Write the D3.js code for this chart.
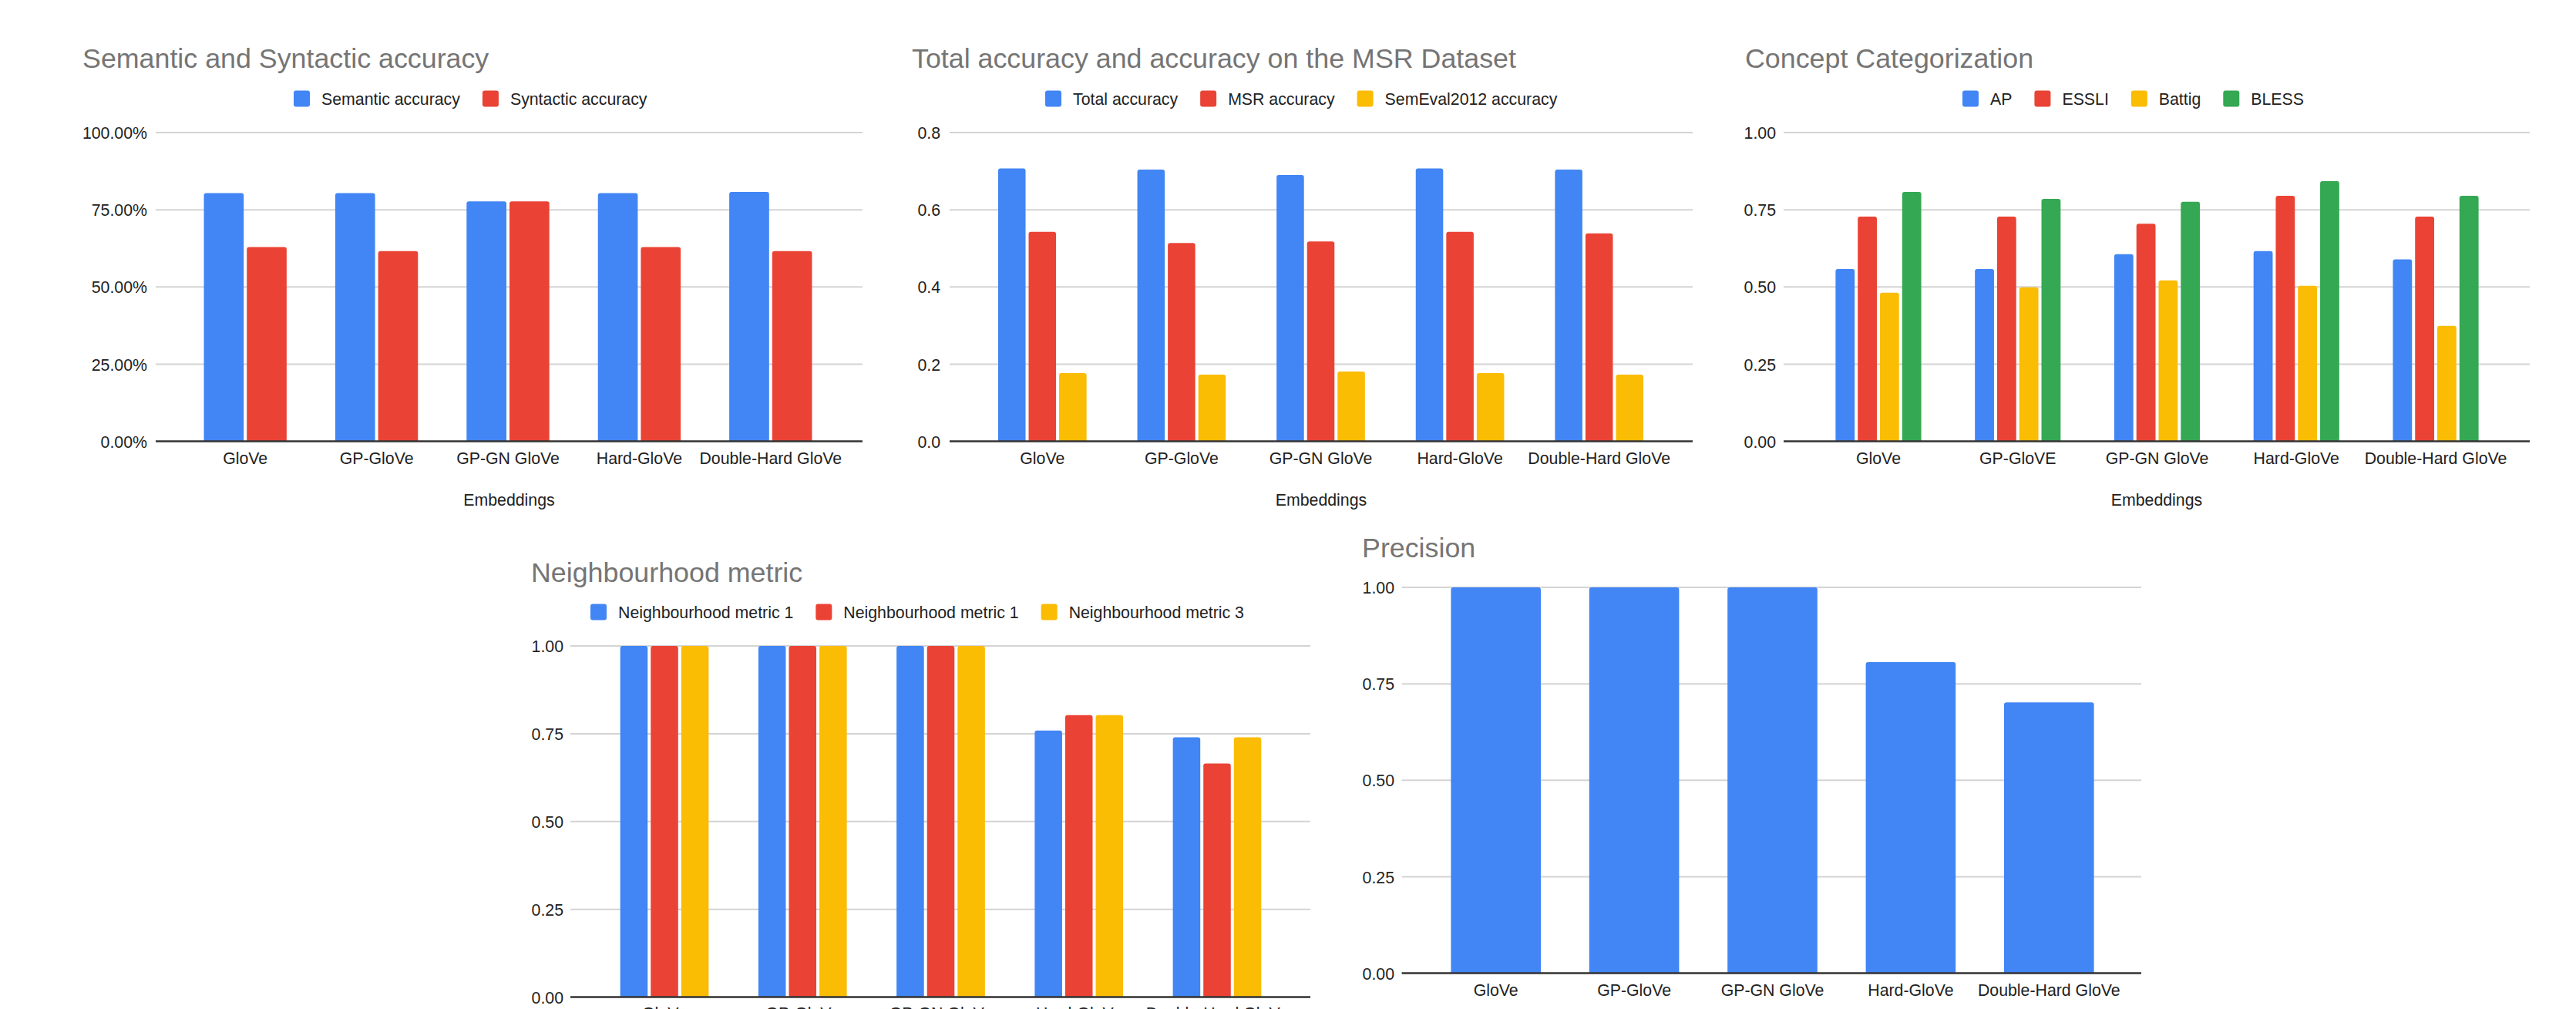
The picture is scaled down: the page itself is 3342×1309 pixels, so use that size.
<!DOCTYPE html>
<html>
<head>
<meta charset="utf-8">
<script src="https://cdn.jsdelivr.net/npm/d3@7"></script>
<style>
  html, body { margin: 0; padding: 0; background: #ffffff; overflow: hidden; }
  svg { display: block; }
  text { font-family: "Liberation Sans", Arial, Helvetica, sans-serif; }
</style>
</head>
<body>
<svg id="chart" width="3342" height="1309"></svg>
<script>
// ---------------- DATA ----------------
const categories = ["GloVe", "GP-GloVe", "GP-GN GloVe", "Hard-GloVe", "Double-Hard GloVe"];
const conceptCategories = ["GloVe", "GP-GloVE", "GP-GN GloVe", "Hard-GloVe", "Double-Hard GloVe"];

const semanticAccuracy = [0.804, 0.804, 0.777, 0.804, 0.808];
const syntacticAccuracy = [0.629, 0.616, 0.777, 0.629, 0.616];

const totalAccuracy = [0.707, 0.704, 0.690, 0.707, 0.704];
const msrAccuracy = [0.543, 0.514, 0.518, 0.543, 0.539];
const semEvalAccuracy = [0.177, 0.173, 0.181, 0.177, 0.173];

const apScores = [0.558, 0.558, 0.606, 0.616, 0.589];
const essliScores = [0.728, 0.728, 0.705, 0.795, 0.728];
const battigScores = [0.481, 0.499, 0.521, 0.504, 0.374];
const blessScores = [0.808, 0.785, 0.776, 0.843, 0.795];

const neighbourhoodMetric1 = [1.00, 1.00, 1.00, 0.759, 0.740];
const neighbourhoodMetric2 = [1.00, 1.00, 1.00, 0.803, 0.665];
const neighbourhoodMetric3 = [1.00, 1.00, 1.00, 0.803, 0.740];

const precisionValues = [1.00, 1.00, 1.00, 0.806, 0.702];

const percentTicks = [0, 0.25, 0.5, 0.75, 1.0];
const msrTicks = [0, 0.2, 0.4, 0.6, 0.8];
const unitTicks = [0, 0.25, 0.5, 0.75, 1.0];

const BLUE = "#4285F4", RED = "#EA4335", YELLOW = "#FBBC04", GREEN = "#34A853";

// ---------------- CHARTS ----------------
const charts = [
  {
    title: "Semantic and Syntactic accuracy", titleX: 107, titleY: 88,
    cats: categories,
    series: [
      { name: "Semantic accuracy", values: semanticAccuracy, color: BLUE },
      { name: "Syntactic accuracy", values: syntacticAccuracy, color: RED }
    ],
    legendX: 381, legendY: 128,
    gridX: [202, 1119], bandX: [233, 1085], yRange: [572.5, 172],
    ticks: percentTicks, domainMax: 1.0, fmt: d3.format(".2%"),
    yLabelX: 191, xLabelY: 601.5, axisTitle: "Embeddings", axisTitleY: 656, groupFrac: 0.63
  },
  {
    title: "Total accuracy and accuracy on the MSR Dataset", titleX: 1183, titleY: 88,
    cats: categories,
    series: [
      { name: "Total accuracy", values: totalAccuracy, color: BLUE },
      { name: "MSR accuracy", values: msrAccuracy, color: RED },
      { name: "SemEval2012 accuracy", values: semEvalAccuracy, color: YELLOW }
    ],
    legendX: 1356, legendY: 128,
    gridX: [1232, 2196], bandX: [1262, 2165], yRange: [572.5, 172],
    ticks: msrTicks, domainMax: 0.8, fmt: d3.format(".1f"),
    yLabelX: 1220, xLabelY: 601.5, axisTitle: "Embeddings", axisTitleY: 656, groupFrac: 0.635
  },
  {
    title: "Concept Categorization", titleX: 2264, titleY: 88,
    cats: conceptCategories,
    series: [
      { name: "AP", values: apScores, color: BLUE },
      { name: "ESSLI", values: essliScores, color: RED },
      { name: "Battig", values: battigScores, color: YELLOW },
      { name: "BLESS", values: blessScores, color: GREEN }
    ],
    legendX: 2546, legendY: 128,
    gridX: [2314, 3282], bandX: [2346.6, 3250.4], yRange: [572.5, 172],
    ticks: unitTicks, domainMax: 1.0, fmt: d3.format(".2f"),
    yLabelX: 2304, xLabelY: 601.5, axisTitle: "Embeddings", axisTitleY: 656, groupFrac: 0.615
  },
  {
    title: "Neighbourhood metric", titleX: 689, titleY: 755,
    cats: categories,
    series: [
      { name: "Neighbourhood metric 1", values: neighbourhoodMetric1, color: BLUE },
      { name: "Neighbourhood metric 1", values: neighbourhoodMetric2, color: RED },
      { name: "Neighbourhood metric 3", values: neighbourhoodMetric3, color: YELLOW }
    ],
    legendX: 766, legendY: 794,
    gridX: [740, 1700], bandX: [772.4, 1668.6], yRange: [1293.5, 838],
    ticks: unitTicks, domainMax: 1.0, fmt: d3.format(".2f"),
    yLabelX: 731, xLabelY: 1322, axisTitle: null, groupFrac: 0.64
  },
  {
    title: "Precision", titleX: 1767, titleY: 723,
    cats: categories,
    series: [
      { name: "Precision", values: precisionValues, color: BLUE }
    ],
    legendX: null,
    gridX: [1818.6, 2778], bandX: [1851, 2748], yRange: [1262.5, 762],
    ticks: unitTicks, domainMax: 1.0, fmt: d3.format(".2f"),
    yLabelX: 1809, xLabelY: 1292, axisTitle: null, groupFrac: 0.65
  }
];

const svg = d3.select("#chart");
const LABEL_SIZE = 21.3;

function topRoundedBar(x, y, w, h, r) {
  r = Math.min(r, w / 2, h);
  return `M${x},${y + h}V${y + r}Q${x},${y} ${x + r},${y}H${x + w - r}Q${x + w},${y} ${x + w},${y + r}V${y + h}Z`;
}

charts.forEach(c => {
  const g = svg.append("g");

  // Title
  g.append("text")
    .attr("x", c.titleX).attr("y", c.titleY)
    .attr("font-size", 35.8).attr("fill", "#757575")
    .text(c.title);

  // Legend
  if (c.legendX !== null) {
    let lx = c.legendX;
    c.series.forEach(s => {
      g.append("rect")
        .attr("x", lx).attr("y", c.legendY - 10.5)
        .attr("width", 21).attr("height", 21)
        .attr("rx", 3).attr("fill", s.color);
      const t = g.append("text")
        .attr("x", lx + 36).attr("y", c.legendY)
        .attr("dy", "0.36em")
        .attr("font-size", LABEL_SIZE).attr("fill", "#222")
        .text(s.name);
      lx += 36 + t.node().getComputedTextLength() + 29;
    });
  }

  const y = d3.scaleLinear().domain([0, c.domainMax]).range(c.yRange);
  const x0 = d3.scaleBand().domain(c.cats).range(c.bandX).paddingInner(0).paddingOuter(0);
  const bw = x0.bandwidth();
  const groupW = bw * c.groupFrac;
  const n = c.series.length;
  const gap = n > 1 ? 4 : 0;
  const barW = (groupW - gap * (n - 1)) / n;
  const x1 = d3.scaleBand().domain(d3.range(n)).range([0, groupW]).paddingInner(n > 1 ? gap / (barW + gap) : 0).paddingOuter(0);

  // Gridlines
  g.append("g").selectAll("line")
    .data(c.ticks.filter(t => t > 0))
    .join("line")
    .attr("x1", c.gridX[0]).attr("x2", c.gridX[1])
    .attr("y1", d => y(d)).attr("y2", d => y(d))
    .attr("stroke", "#d4d4d4").attr("stroke-width", 2);

  // Y axis (labels only)
  const yAxis = d3.axisLeft(y).tickValues(c.ticks).tickFormat(c.fmt).tickSize(0).tickPadding(0);
  const ya = g.append("g").attr("transform", `translate(${c.yLabelX},0)`).call(yAxis);
  ya.select(".domain").remove();
  ya.selectAll("text")
    .attr("font-family", '"Liberation Sans", Arial, sans-serif')
    .attr("font-size", LABEL_SIZE).attr("fill", "#222").attr("dy", "0.36em");

  // Bars
  c.series.forEach((s, si) => {
    g.append("g").selectAll("path")
      .data(c.cats.map((cat, i) => ({ cat, v: s.values[i] })))
      .join("path")
      .attr("d", d => {
        const bx = x0(d.cat) + (bw - groupW) / 2 + x1(si);
        const by = y(d.v);
        return topRoundedBar(bx, by, x1.bandwidth(), y(0) - by, 3);
      })
      .attr("fill", s.color);
  });

  // Baseline
  g.append("line")
    .attr("x1", c.gridX[0]).attr("x2", c.gridX[1])
    .attr("y1", y(0)).attr("y2", y(0))
    .attr("stroke", "#333").attr("stroke-width", 2.5);

  // X axis labels
  const xAxis = d3.axisBottom(x0).tickSize(0).tickPadding(0);
  const xa = g.append("g").attr("transform", `translate(0,${c.xLabelY})`).call(xAxis);
  xa.select(".domain").remove();
  xa.selectAll("text")
    .attr("font-family", '"Liberation Sans", Arial, sans-serif')
    .attr("font-size", LABEL_SIZE).attr("fill", "#222").attr("dy", 0).attr("y", 0);

  // Axis title
  if (c.axisTitle) {
    g.append("text")
      .attr("x", (c.gridX[0] + c.gridX[1]) / 2).attr("y", c.axisTitleY)
      .attr("text-anchor", "middle")
      .attr("font-size", LABEL_SIZE).attr("fill", "#222")
      .text(c.axisTitle);
  }
});
</script>
</body>
</html>
